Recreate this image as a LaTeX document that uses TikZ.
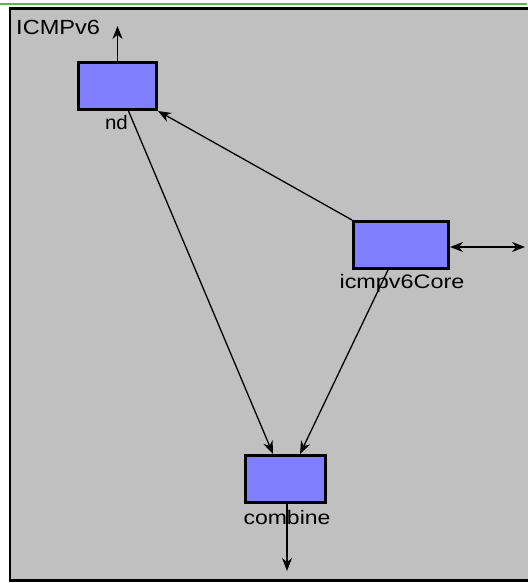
\documentclass[tikz,border=0pt]{standalone}
\usepackage{fontspec}
\setmainfont{Liberation Sans}
\usetikzlibrary{arrows.meta,calc}
\definecolor{bgray}{RGB}{192,192,192}
\definecolor{bblue}{RGB}{128,128,255}
\definecolor{fgreen}{RGB}{96,176,96}
\begin{document}
\begin{tikzpicture}[x=1pt,y=-1pt,
  blk/.style={draw=black,line width=3pt,fill=bblue,minimum height=47pt,inner sep=0pt},
  lbl/.style={anchor=north,inner sep=0pt,font=\fontsize{19.5}{20}\selectfont},
  conn/.style={line width=1.3pt,-{Stealth[length=13pt,width=10pt]}},
  conn2/.style={line width=1.3pt,{Stealth[length=13pt,width=10pt]}-{Stealth[length=13pt,width=10pt]}}]
\useasboundingbox (0,0) rectangle (527,583);
\fill[white] (0,0) rectangle (527,583);
\draw[fgreen,line width=2pt] (0,4.5) -- (527,4.5);
\draw[black,line width=2.5pt,fill=bgray] (10,8.5) rectangle (545,580.5);
\node[anchor=west,inner sep=0pt,font=\fontsize{20.5}{21}\selectfont] (title) at (16,27.5) {\scalebox{1.15}[1]{ICMPv6}};
\node[blk,minimum width=78pt] (nd) at (117.5,86) {};
\node[blk,minimum width=95pt] (core) at (401,245) {};
\node[blk,minimum width=80pt] (comb) at (285.5,479) {};
\node[lbl] (ndl) at (116.5,115) {\scalebox{1.05}[1]{nd}};
\node[lbl] (corel) at (402,274) {\scalebox{1.2}[1]{icmpv6Core}};
\node[lbl] (combl) at (287,510) {\scalebox{1.18}[1]{combine}};
\coordinate (ndout) at (117.5,26);
\coordinate (combout) at (287,571);
\coordinate (coreout) at (525,247);
\draw[conn] (nd.north) -- (ndout);
\draw[conn] (core.north west) -- (nd.south east);
\draw[conn] ($(nd.south)+(11,0)$) -- ($(comb.north)+(-12.5,0)$);
\draw[conn] ($(core.south)+(-13,0)$) -- ($(comb.north)+(14.5,0)$);
\draw[conn] ($(comb.south)+(1.5,0)$) -- (combout);
\draw[conn2] (core.east |- coreout) -- (coreout);
\end{tikzpicture}
\end{document}
